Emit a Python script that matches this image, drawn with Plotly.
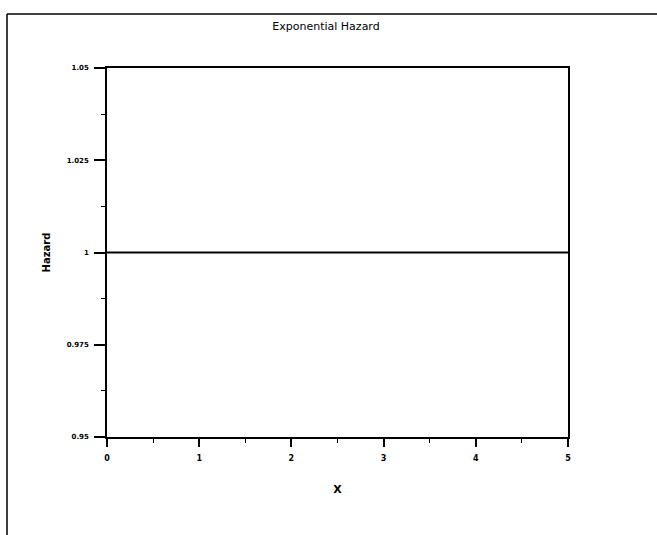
import plotly.graph_objects as go

x_vals = [0, 1, 2, 3, 4, 5]
hazard = [1, 1, 1, 1, 1, 1]
x_ticks = [0, 1, 2, 3, 4, 5]
x_tick_labels = ["0", "1", "2", "3", "4", "5"]
y_ticks = [0.95, 0.975, 1, 1.025, 1.05]
y_tick_labels = ["0.95", "0.975", "1", "1.025", "1.05"]

W, H = 657, 535
L, R, T, B = 107, 89, 68, 98
pw, ph = W - L - R, H - T - B

def px_to_paper_x(px):
    return (px - L) / pw

def px_to_paper_y(py):
    return (H - B - py) / ph

fig = go.Figure()
fig.add_trace(go.Scatter(x=x_vals, y=hazard, mode="lines",
                         line=dict(color="black", width=2), showlegend=False))

fig.update_layout(
    width=W, height=H,
    margin=dict(l=L, r=R, t=T, b=B),
    paper_bgcolor="white", plot_bgcolor="white",
    font=dict(family="DejaVu Sans", color="black", size=7),
    title=dict(text="Exponential Hazard", x=326 / W, xref="container", xanchor="center",
               y=(H - 26) / H, yref="container", yanchor="middle",
               font=dict(size=11, family="DejaVu Sans")),
    xaxis=dict(range=[0, 5], tickvals=x_ticks, ticktext=x_tick_labels,
               ticks="outside", ticklen=8, tickwidth=1.5, tickcolor="black",
               showline=True, linecolor="black", linewidth=1.5, mirror=True,
               showgrid=False, zeroline=False, ticklabelstandoff=5,
               tickfont=dict(size=8, family="DejaVu Sans", weight="bold", color="black"),
               minor=dict(dtick=0.5, ticks="outside", ticklen=4, tickwidth=1, tickcolor="black"),
               title=dict(text="X", font=dict(size=11, weight="bold"), standoff=23)),
    yaxis=dict(range=[0.95, 1.05], tickvals=y_ticks, ticktext=y_tick_labels,
               ticks="outside", ticklen=11, tickwidth=1.5, tickcolor="black",
               showline=True, linecolor="black", linewidth=1.5, mirror=True,
               showgrid=False, zeroline=False, ticklabelstandoff=4,
               tickfont=dict(size=7, family="DejaVu Sans", weight="bold", color="black"),
               minor=dict(dtick=0.0125, ticks="outside", ticklen=4, tickwidth=1, tickcolor="black"),
               title=dict(text="Hazard", font=dict(size=10, weight="bold"), standoff=14)),
)

# outer frame (left and top edges)
fig.add_shape(type="line", xref="paper", yref="paper",
              x0=px_to_paper_x(7), x1=px_to_paper_x(7),
              y0=px_to_paper_y(14), y1=px_to_paper_y(540),
              line=dict(color="black", width=1.5))
fig.add_shape(type="line", xref="paper", yref="paper",
              x0=px_to_paper_x(7), x1=px_to_paper_x(660),
              y0=px_to_paper_y(14), y1=px_to_paper_y(14),
              line=dict(color="black", width=1.5))

fig.write_html("out.html", config={"displayModeBar": False},
               post_script="document.body.style.margin='0px';document.body.style.padding='0px';")
